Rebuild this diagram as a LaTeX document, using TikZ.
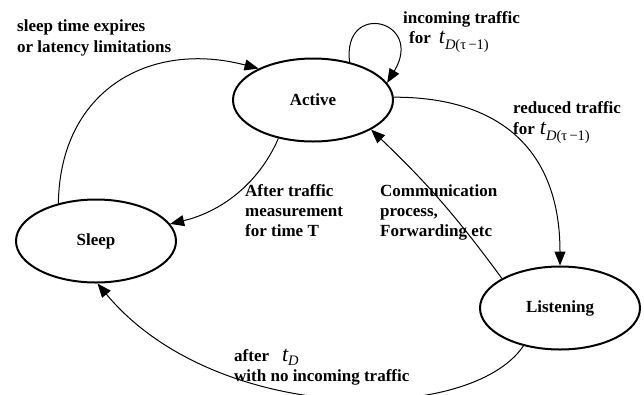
\documentclass[tikz,border=0pt]{standalone}
\usepackage{fontspec}
\setmainfont{Liberation Serif}
\usetikzlibrary{shapes.geometric,arrows.meta}
\newcommand{\bigtee}[2][-6pt]{{\fontsize{22}{22}\selectfont\mdseries\itshape t}\raisebox{#1}{\fontsize{14.5}{14.5}\selectfont\mdseries #2}}
\begin{document}
\begin{tikzpicture}[x=1pt,y=-1pt,
  state/.style={ellipse,draw,line width=2pt,minimum width=160pt,minimum height=83pt,inner sep=0pt,font=\fontsize{17}{20}\selectfont\bfseries},
  lbl/.style={anchor=base west,inner sep=0pt,font=\fontsize{17}{20}\selectfont\bfseries},
  conn/.style={line width=1pt,-{Triangle[length=14pt,width=11pt]}}]
\useasboundingbox (0,0) rectangle (644,394);
\node[state] (active) at (313,100) {Active};
\node[state] (sleep) at (96,241) {Sleep};
\node[state] (listen) at (560,308) {Listening};

% connectors
\draw[conn] (sleep.135) .. controls (60,90) and (150,40) .. (active.150);
\draw[conn] (active.46) .. controls (342,0) and (425,20) .. (active.13);
\draw[conn] (active.2) .. controls (500,97) and (560,150) .. (listen.90);
\draw[conn] (active.228) .. controls (258,185) and (220,212) .. (sleep.13);
\draw[conn] (listen.153) to[bend right=5] (active.-27);
\begin{scope}
\clip (0,0) rectangle (644,394);
\draw[conn] (listen.226) .. controls (470,425) and (215,425) .. (sleep.-88);
\end{scope}

% labels
\node[lbl] (a1) at (17,31) {sleep time expires};
\node[lbl] (a2) at (17,52) {or latency limitations};
\node[lbl] (b1) at (403,23) {incoming traffic};
\node[lbl] (b2) at (409,43) {for\hspace{8pt}\bigtee{{\itshape D}(τ\,−1)}};
\node[lbl] (c1) at (513,113) {reduced traffic};
\node[lbl] (c2) at (513,134) {for\hspace{5pt}\bigtee{{\itshape D}(τ\,−1)}};
\node[lbl] (d1) at (245,196) {After traffic};
\node[lbl] (d2) at (245,216) {measurement};
\node[lbl] (d3) at (245,236) {for time T};
\node[lbl] (e1) at (380,196) {Communication};
\node[lbl] (e2) at (380,216) {process,};
\node[lbl] (e3) at (380,236) {Forwarding etc};
\node[lbl] (f1) at (234,361) {after\hspace{13pt}\bigtee[-4.5pt]{\itshape D}};
\node[lbl] (f2) at (234,381) {with no incoming traffic};
\end{tikzpicture}
\end{document}
